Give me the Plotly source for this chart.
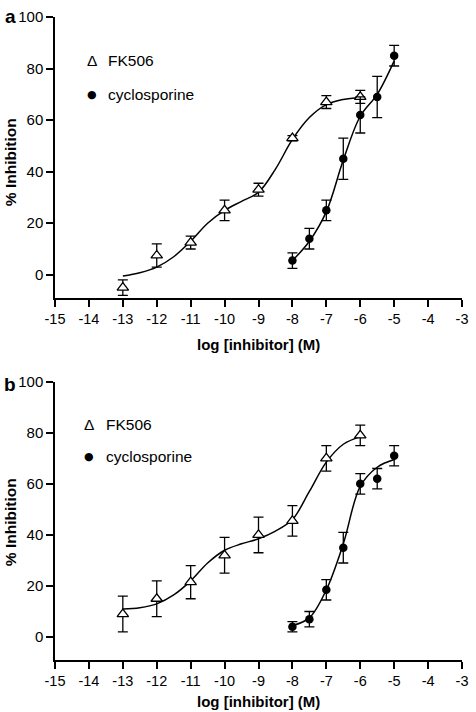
import plotly.graph_objects as go

# ---------------- data ----------------
# Panel a
a_fk_x = [-13, -12, -11, -10, -9, -8, -7, -6]
a_fk_y = [-5, 7.5, 12.5, 25, 33, 53, 67, 69]
a_fk_err = [3, 4.5, 2.5, 4, 2.5, 1, 2.5, 2.5]

a_cs_x = [-8, -7.5, -7, -6.5, -6, -5.5, -5]
a_cs_y = [5.5, 14, 25, 45, 62, 69, 85]
a_cs_err = [3, 4, 4, 8, 7, 8, 4]

a_fk_fit_x = [-13, -12.5, -12, -11.5, -11, -10.5, -10, -9.5, -9, -8.5, -8, -7.5, -7, -6.5, -6]
a_fk_fit_y = [-0.5, 0.8, 3, 7, 13, 20, 25, 28.5, 32, 41, 52.5, 61, 66, 68, 68.8]
a_cs_fit_x = [-8, -7.5, -7, -6.5, -6, -5.5, -5]
a_cs_fit_y = [5.5, 13, 24.5, 44.5, 61.5, 70, 83]

# Panel b
b_fk_x = [-13, -12, -11, -10, -9, -8, -7, -6]
b_fk_y = [9, 15, 21.5, 32, 40, 45.5, 70, 79]
b_fk_err = [7, 7, 6.5, 7, 7, 6, 5, 4]

b_cs_x = [-8, -7.5, -7, -6.5, -6, -5.5, -5]
b_cs_y = [4, 7, 18.5, 35, 60, 62, 71]
b_cs_err = [2, 3, 4, 6, 4, 4, 4]

b_fk_fit_x = [-13, -12.5, -12, -11.5, -11, -10.5, -10, -9.5, -9, -8.5, -8, -7.5, -7, -6.5, -6]
b_fk_fit_y = [11, 11.5, 13, 16.5, 22, 29, 34, 36.5, 38.5, 41.5, 46, 57, 68.5, 75.5, 78.5]
b_cs_fit_x = [-8, -7.5, -7, -6.5, -6, -5.5, -5]
b_cs_fit_y = [4.5, 7.5, 18.5, 36.5, 59, 66.5, 69.5]

x_ticks = list(range(-15, -2))
y_ticks = [0, 20, 40, 60, 80, 100]

series_names = ["FK506", "cyclosporine"]
panel_labels = ["a", "b"]
x_title = "log [inhibitor] (M)"
y_title = "% Inhibition"

FONT = "Liberation Sans, Arial, Helvetica, sans-serif"

fig = go.Figure()

def add_panel(xa, ya, fkx, fky, fke, csx, csy, cse, ffx, ffy, cfx, cfy):
    fig.add_trace(go.Scatter(x=ffx, y=ffy, mode="lines", line=dict(color="black", width=1.5, shape="spline", smoothing=1),
                             xaxis=xa, yaxis=ya, showlegend=False, hoverinfo="skip"))
    fig.add_trace(go.Scatter(x=cfx, y=cfy, mode="lines", line=dict(color="black", width=1.5, shape="spline", smoothing=1),
                             xaxis=xa, yaxis=ya, showlegend=False, hoverinfo="skip"))
    fig.add_trace(go.Scatter(x=fkx, y=fky, mode="markers", name=series_names[0],
                             error_y=dict(type="data", array=fke, visible=True, color="black", thickness=1.3, width=5),
                             marker=dict(symbol="triangle-up", size=10, color="white", line=dict(color="black", width=1.3)),
                             xaxis=xa, yaxis=ya, showlegend=False))
    fig.add_trace(go.Scatter(x=csx, y=csy, mode="markers", name=series_names[1],
                             error_y=dict(type="data", array=cse, visible=True, color="black", thickness=1.3, width=5),
                             marker=dict(symbol="circle", size=8.5, color="black", line=dict(color="black", width=0)),
                             xaxis=xa, yaxis=ya, showlegend=False))

add_panel("x", "y", a_fk_x, a_fk_y, a_fk_err, a_cs_x, a_cs_y, a_cs_err, a_fk_fit_x, a_fk_fit_y, a_cs_fit_x, a_cs_fit_y)
add_panel("x2", "y2", b_fk_x, b_fk_y, b_fk_err, b_cs_x, b_cs_y, b_cs_err, b_fk_fit_x, b_fk_fit_y, b_cs_fit_x, b_cs_fit_y)

xcommon = dict(range=[-15, -3], tickvals=x_ticks, ticktext=[str(v) for v in x_ticks],
               showline=True, linecolor="black", linewidth=1.5, ticks="outside", ticklen=7, tickwidth=1.5,
               tickcolor="black", showgrid=False, zeroline=False, tickfont=dict(size=14.5, color="black", family=FONT))
ycommon = dict(range=[-9, 100], tickvals=y_ticks, showline=True, linecolor="black", linewidth=1.5,
               ticks="outside", ticklen=7, tickwidth=1.5, tickcolor="black", showgrid=False, zeroline=False,
               tickfont=dict(size=15, color="black", family=FONT))

fig.update_layout(
    width=476, height=712,
    margin=dict(l=55, r=8, t=17, b=52),
    paper_bgcolor="white", plot_bgcolor="white",
    font=dict(family=FONT, color="black"),
    xaxis=dict(domain=[0, 1], anchor="y", **xcommon),
    yaxis=dict(domain=[0.563, 1.0], anchor="x", **ycommon),
    xaxis2=dict(domain=[0, 1], anchor="y2", **xcommon),
    yaxis2=dict(domain=[0.0, 0.4328], anchor="x2", **ycommon),
    showlegend=False,
)

ann = []
# axis titles
for yc in [0.4914, -0.0645]:
    ann.append(dict(text="<b>%s</b>" % x_title, x=0.5, y=yc, xref="paper", yref="paper",
                    showarrow=False, xanchor="center", yanchor="middle", font=dict(size=15, family=FONT)))
for yc in [0.7737, 0.2138]:
    ann.append(dict(text="<b>%s</b>" % y_title, x=-0.109, y=yc, xref="paper", yref="paper", textangle=-90,
                    showarrow=False, xanchor="center", yanchor="middle", font=dict(size=15.5, family=FONT)))
# panel labels
for lab, yc in zip(panel_labels, [1.0008, 0.4292]):
    ann.append(dict(text="<b>%s</b>" % lab, x=-0.110, y=yc, xref="paper", yref="paper",
                    showarrow=False, xanchor="center", yanchor="middle", font=dict(size=19, family=FONT)))
# legends
legends = [
    (0.092, 0.1259, 0.9316, 0.8787),
    (0.0831, 0.1194, 0.3666, 0.3162),
]
for mx, tx, y1, y2 in legends:
    ann.append(dict(text="Δ", x=mx, y=y1, xref="paper", yref="paper", showarrow=False,
                    xanchor="center", yanchor="middle", font=dict(size=15.5, family=FONT)))
    ann.append(dict(text="●", x=mx, y=y2, xref="paper", yref="paper", showarrow=False,
                    xanchor="center", yanchor="middle", font=dict(size=11, family="DejaVu Sans")))
    ann.append(dict(text=series_names[0], x=tx, y=y1, xref="paper", yref="paper", showarrow=False,
                    xanchor="left", yanchor="middle", font=dict(size=15.5, family=FONT)))
    ann.append(dict(text=series_names[1], x=tx, y=y2, xref="paper", yref="paper", showarrow=False,
                    xanchor="left", yanchor="middle", font=dict(size=15.5, family=FONT)))
fig.update_layout(annotations=ann)

fig.write_html("out.html", config={"displayModeBar": False},
               post_script="document.body.style.margin='0px';")
